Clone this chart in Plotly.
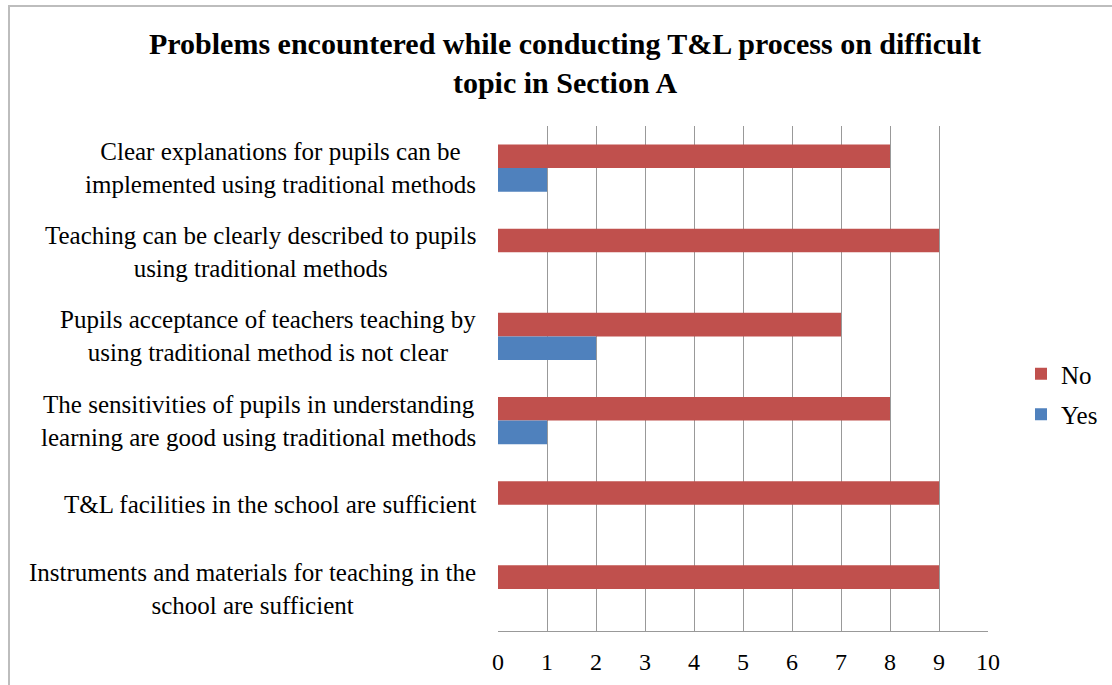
import plotly.graph_objects as go

# Survey statements (top to bottom) and response counts
statements = [
    "Clear explanations for pupils can be<br>implemented using traditional methods",
    "Teaching can be clearly described to pupils<br>using traditional methods",
    "Pupils acceptance of teachers teaching by<br>using traditional method is not clear",
    "The sensitivities of pupils in understanding<br>learning are good using traditional methods",
    "T&L facilities in the school are sufficient",
    "Instruments and materials for teaching in the<br>school are sufficient",
]
no_counts = [8, 9, 7, 8, 9, 9]
yes_counts = [1, 0, 2, 1, 0, 0]
x_ticks = list(range(0, 11))

W, H = 1112, 685
L, R, T, B = 498, 124, 126, 54
plot_w = W - L - R
plot_h = H - T - B

SERIF = "Liberation Serif, Times New Roman, serif"
positions = list(range(len(statements)))

fig = go.Figure()
fig.add_trace(go.Bar(
    y=positions, x=no_counts, name="No", orientation="h",
    marker=dict(color="#C0504D", line=dict(width=0)),
    legendgroup="no",
))
fig.add_trace(go.Bar(
    y=positions, x=yes_counts, name="Yes", orientation="h",
    marker=dict(color="#4F81BD", line=dict(width=0)),
    legendgroup="yes",
))

# Category labels: centred lines, right edge just left of the axis
annotations = []
for i, s in enumerate(statements):
    annotations.append(dict(
        text=s, x=0, xref="paper", y=i, yref="y",
        xanchor="right", yanchor="middle", align="center",
        xshift=-20, showarrow=False,
        font=dict(family=SERIF, size=25, color="#000000"),
    ))


def px_x(px):
    return (px - L) / plot_w


def px_y(py):
    return (H - B - py) / plot_h


# Chart frame (left and top edges)
frame = dict(
    type="path", xref="paper", yref="paper",
    path=f"M {px_x(9)} {px_y(H + 5)} L {px_x(9)} {px_y(6)} L {px_x(W + 5)} {px_y(6)}",
    line=dict(color="#BDBDBD", width=2),
)

fig.update_layout(
    width=W, height=H,
    margin=dict(l=L, r=R, t=T, b=B, autoexpand=False),
    paper_bgcolor="white", plot_bgcolor="white",
    barmode="group", bargap=0.44, bargroupgap=0,
    title=dict(
        text="Problems encountered while conducting T&L process on difficult<br>topic in Section A",
        x=565 / W, xanchor="center",
        y=1 - 54 / H, yanchor="middle",
        font=dict(family=SERIF, size=30, color="#000000", weight="bold"),
    ),
    xaxis=dict(
        range=[0, 10], tickvals=x_ticks, ticktext=[str(v) for v in x_ticks],
        showgrid=True, gridcolor="#999999", gridwidth=1,
        showline=True, linecolor="#999999", linewidth=1,
        zeroline=False, ticks="", ticklen=0, ticklabelstandoff=9,
        tickfont=dict(family=SERIF, size=24, color="#000000"),
    ),
    yaxis=dict(
        range=[len(statements) - 0.5, -0.5],
        showticklabels=False, showgrid=False, zeroline=False,
        showline=False, ticks="",
    ),
    legend=dict(
        xref="container", yref="container",
        x=1021 / W, xanchor="left", y=1 - 394 / H, yanchor="middle",
        traceorder="grouped", tracegroupgap=5,
        font=dict(family=SERIF, size=25, color="#000000"),
        bgcolor="rgba(0,0,0,0)", itemwidth=30,
    ),
    annotations=annotations,
    shapes=[frame],
    showlegend=True,
)

fig.write_html("out.html")
